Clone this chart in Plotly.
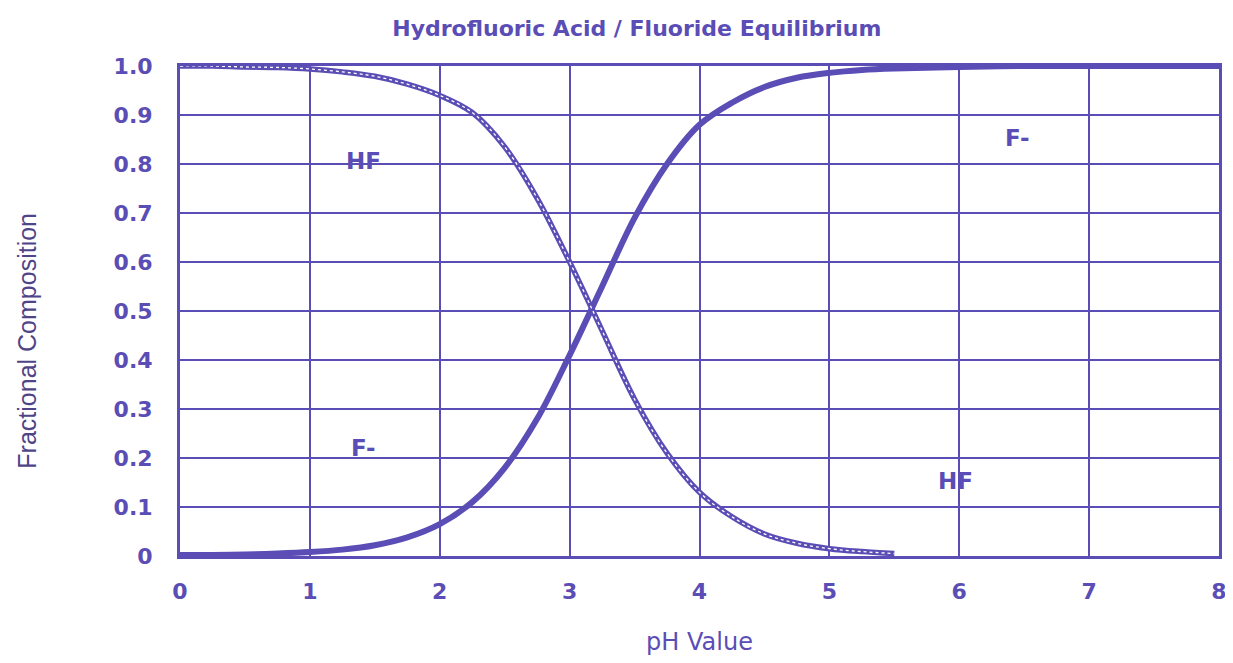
import plotly.graph_objects as go

# Data
ph_hf = [0, 0.25, 0.5, 0.75, 1, 1.25, 1.5, 1.75, 2, 2.25, 2.5, 2.75, 3, 3.25, 3.5,
         3.75, 4, 4.25, 4.5, 4.75, 5, 5.25, 5.5]
hf_frac = [1.0, 1.0, 0.998, 0.997, 0.994, 0.988, 0.979, 0.963, 0.94, 0.905, 0.835, 0.73,
           0.60, 0.46, 0.32, 0.21, 0.13, 0.08, 0.045, 0.026, 0.015, 0.009, 0.005]

ph_f = [0, 0.25, 0.5, 0.75, 1, 1.25, 1.5, 1.75, 2, 2.25, 2.5, 2.75, 3, 3.25, 3.5,
        3.75, 4, 4.25, 4.5, 4.75, 5, 5.25, 5.5, 6, 6.5, 7, 7.5, 8]
f_frac = [0.002, 0.002, 0.003, 0.005, 0.008, 0.013, 0.022, 0.038, 0.065, 0.11, 0.18,
          0.28, 0.41, 0.55, 0.69, 0.80, 0.88, 0.925, 0.957, 0.976, 0.986, 0.992, 0.995,
          0.998, 1.0, 1.0, 1.0, 1.0]

x_ticks = [0, 1, 2, 3, 4, 5, 6, 7, 8]
y_ticks = [0, 0.1, 0.2, 0.3, 0.4, 0.5, 0.6, 0.7, 0.8, 0.9, 1.0]
y_tick_text = ["0", "0.1", "0.2", "0.3", "0.4", "0.5", "0.6", "0.7", "0.8", "0.9", "1.0"]

labels = ["HF", "F-", "F-", "HF"]
label_x = [1.41, 6.45, 1.41, 5.97]
label_y = [0.806, 0.853, 0.22, 0.153]

PURPLE = "#5a4db5"
BOLD = "DejaVu Sans, Verdana, sans-serif"
REG = "DejaVu Sans, sans-serif"

fig = go.Figure()
fig.add_trace(go.Scatter(x=ph_f, y=f_frac, mode="lines", line=dict(color=PURPLE, width=6, shape="spline"),
                         hoverinfo="skip", showlegend=False))
fig.add_trace(go.Scatter(x=ph_hf, y=hf_frac, mode="lines", line=dict(color=PURPLE, width=5.5, shape="spline"),
                         hoverinfo="skip", showlegend=False))
fig.add_trace(go.Scatter(x=ph_hf, y=hf_frac, mode="lines",
                         line=dict(color="white", width=1.3, shape="spline", dash="dot"),
                         hoverinfo="skip", showlegend=False))

for t, xx, yy in zip(labels, label_x, label_y):
    fig.add_annotation(x=xx, y=yy, text="<b>" + t + "</b>", showarrow=False,
                       font=dict(family=BOLD, size=23, color=PURPLE))

# y-axis title as rotated annotation (positioned like the reference)
fig.add_annotation(xref="paper", yref="paper", x=-0.147, y=0.44, xanchor="center", yanchor="middle",
                   text="Fractional Composition", textangle=-90, showarrow=False,
                   font=dict(family="Liberation Sans Narrow, Liberation Sans, sans-serif", size=25, color="#4f4488"))

fig.update_layout(
    width=1233, height=663,
    margin=dict(l=172, r=22, t=58, b=115),
    paper_bgcolor="white", plot_bgcolor="white",
    title=dict(text="<b>Hydrofluoric Acid / Fluoride Equilibrium</b>", x=0.51, xanchor="center",
               y=0.981, yanchor="top", font=dict(family=BOLD, size=22, color=PURPLE)),
    xaxis=dict(range=[0, 8], tickvals=x_ticks, ticktext=[str(v) for v in x_ticks],
               showgrid=True, gridcolor=PURPLE, gridwidth=1.6, zeroline=False,
               showline=True, linecolor=PURPLE, linewidth=3, mirror=True,
               ticks="", ticklabelstandoff=14,
               tickfont=dict(family=BOLD, size=22, color=PURPLE, weight="bold"),
               title=dict(text="pH Value", font=dict(family=REG, size=24, color=PURPLE), standoff=30)),
    yaxis=dict(range=[0, 1], tickvals=y_ticks, ticktext=y_tick_text,
               showgrid=True, gridcolor=PURPLE, gridwidth=1.6, zeroline=False,
               showline=True, linecolor=PURPLE, linewidth=3, mirror=True,
               ticks="", ticklabelstandoff=20,
               tickfont=dict(family=BOLD, size=22, color=PURPLE, weight="bold")),
)

fig.write_html("out.html")
